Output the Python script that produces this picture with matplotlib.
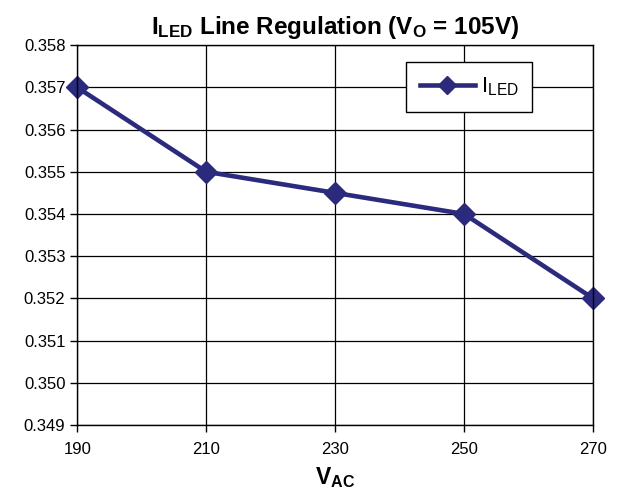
import matplotlib.pyplot as plt

plt.rcParams['font.family'] = ['Liberation Sans', 'DejaVu Sans']
plt.rcParams['mathtext.fontset'] = 'custom'
plt.rcParams['mathtext.rm'] = 'Liberation Sans'
plt.rcParams['mathtext.it'] = 'Liberation Sans'
plt.rcParams['mathtext.bf'] = 'Liberation Sans:bold'

v_ac = [190, 210, 230, 250, 270]
i_led = [0.357, 0.355, 0.3545, 0.354, 0.352]
y_ticks = [0.349, 0.350, 0.351, 0.352, 0.353, 0.354, 0.355, 0.356, 0.357, 0.358]

navy = '#2b2a7c'

fig = plt.figure(figsize=(6.23, 4.97), dpi=100)
ax = fig.add_axes([0.124, 0.145, 0.828, 0.764])

ax.plot(v_ac, i_led, color=navy, lw=3.3, marker='D', ms=11, label=r'$\mathrm{I_{LED}}$')

ax.set_xlim(190, 270)
ax.set_ylim(0.349, 0.358)
ax.set_xticks(v_ac)
ax.set_yticks(y_ticks)
ax.set_yticklabels([f'{t:.3f}' for t in y_ticks])
ax.tick_params(labelsize=12, length=5, width=1, color='black')
ax.tick_params(axis='x', pad=7)
ax.grid(True, color='black', lw=0.9)
ax.set_axisbelow(True)
for s in ax.spines.values():
    s.set_linewidth(1)
for p in ax.lines:
    p.set_clip_on(False)

ax.set_title(r'$\mathbf{I_{LED}}$ Line Regulation ($\mathbf{V_O}$ = 105V)',
             fontsize=17.5, fontweight='bold', pad=8)
ax.set_xlabel(r'$\mathbf{V_{AC}}$', fontsize=16.5, labelpad=6)

leg = ax.legend(loc='upper left', bbox_to_anchor=(0.638, 0.955), fontsize=16,
                frameon=True, fancybox=False, edgecolor='black', handlelength=2.5,
                borderpad=0.6, handletextpad=0.25, borderaxespad=0)
leg.get_frame().set_linewidth(1)
leg.get_frame().set_facecolor('white')
leg.get_frame().set_alpha(1)
leg.legend_handles[0].set_markersize(9)

fig.savefig('out.png', dpi=100)
